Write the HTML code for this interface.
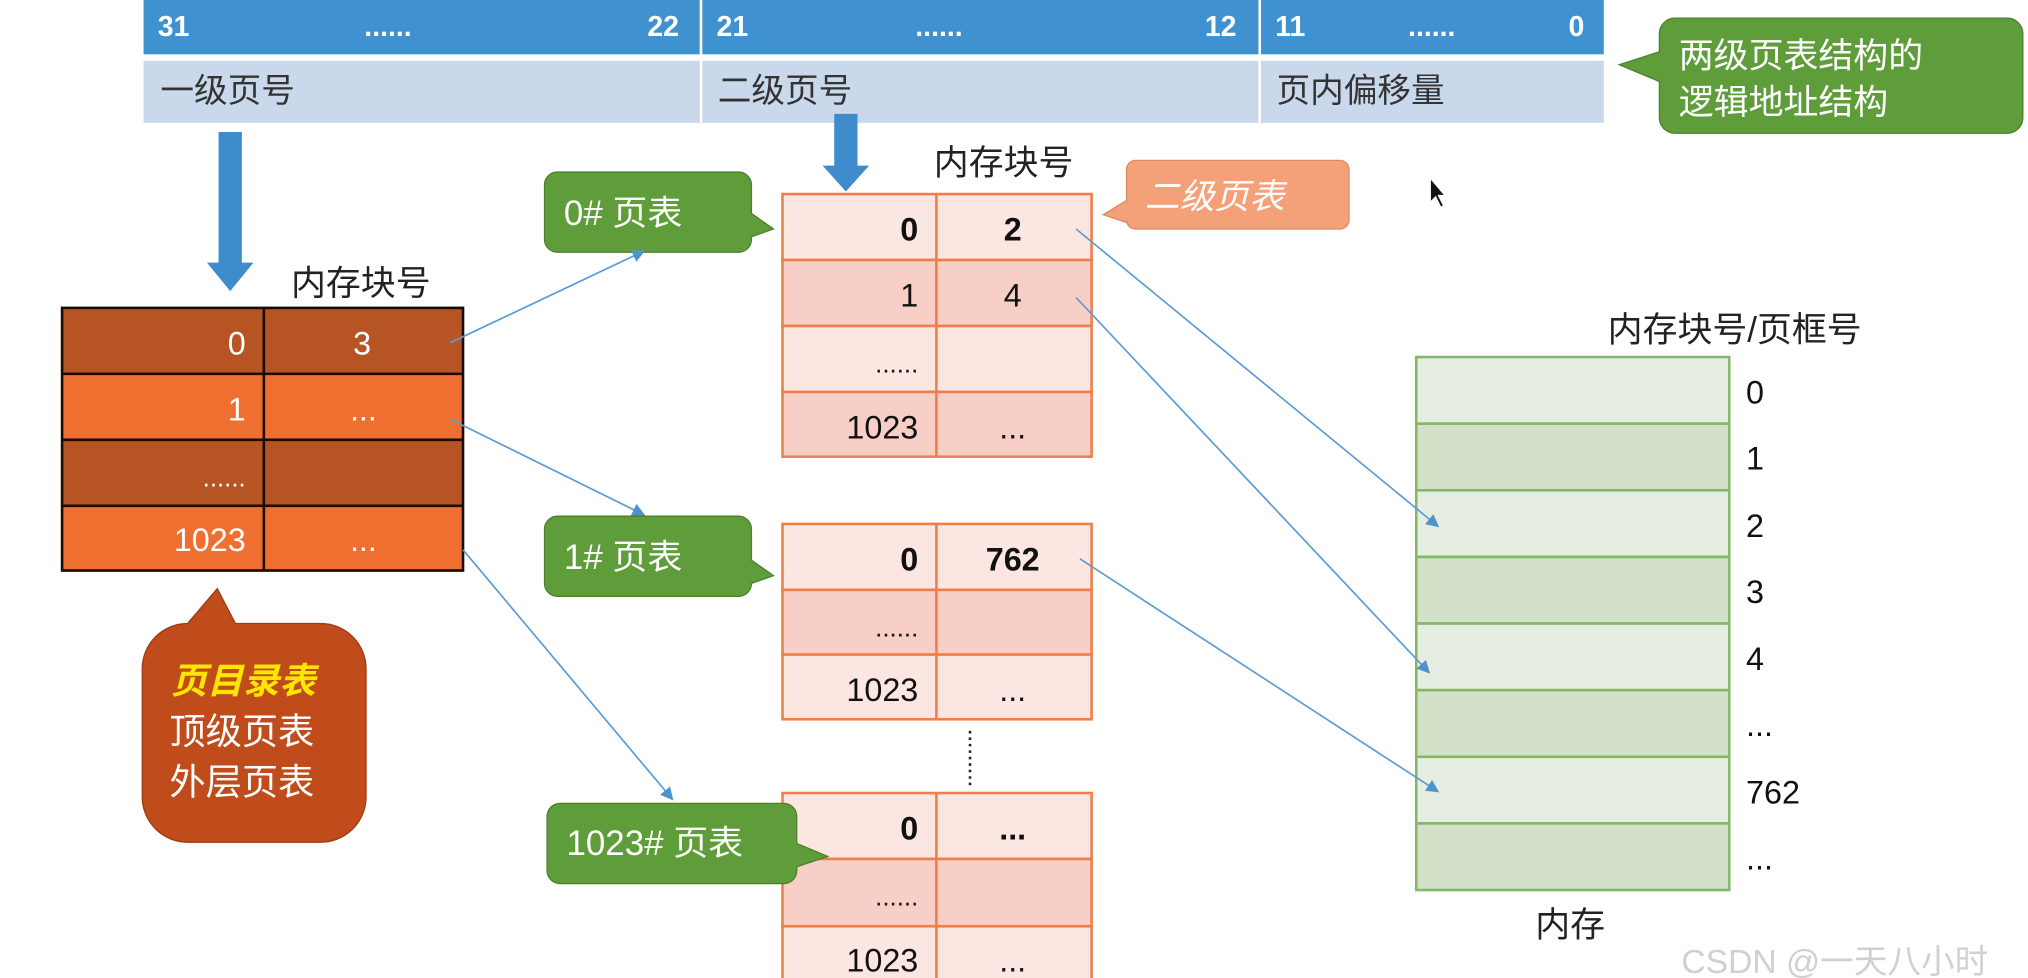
<!DOCTYPE html>
<html><head><meta charset="utf-8"><style>
html,body{margin:0;padding:0;background:#fff;overflow:hidden}
svg{display:block}
text{font-family:"Liberation Sans","Noto Sans CJK SC",sans-serif}
</style></head><body>
<svg width="2028" height="978" viewBox="0 0 1568 756" preserveAspectRatio="none" xmlns="http://www.w3.org/2000/svg">
<defs>
<marker id="ah" markerWidth="10" markerHeight="10" refX="9" refY="5" orient="auto" markerUnits="userSpaceOnUse"><path d="M0,0 L10,5 L0,10 z" fill="#4f93cc"/></marker>
</defs>
<rect width="1568" height="756" fill="#fff"/>
<rect x="111" y="0" width="1129" height="42" fill="#3f92cf"/>
<rect x="111" y="47" width="1129" height="48" fill="#c9d9eb"/>
<line x1="542" y1="0" x2="542" y2="95" stroke="#fff" stroke-width="2"/>
<line x1="974" y1="0" x2="974" y2="95" stroke="#fff" stroke-width="2"/>
<g fill="#fff" font-weight="bold" font-size="22">
<text x="122" y="28">31</text><text x="300" y="28" text-anchor="middle">......</text><text x="525" y="28" text-anchor="end">22</text>
<text x="554" y="28">21</text><text x="726" y="28" text-anchor="middle">......</text><text x="956" y="28" text-anchor="end">12</text>
<text x="986" y="28">11</text><text x="1107" y="28" text-anchor="middle">......</text><text x="1225" y="28" text-anchor="end">0</text>
</g>
<g fill="#333" font-size="26">
<text x="124" y="79">一级页号</text><text x="555" y="79">二级页号</text><text x="987" y="79">页内偏移量</text>
</g>
<path d="M1295,14 H1552 a12,12 0 0 1 12,12 V91 a12,12 0 0 1 -12,12 H1295 a12,12 0 0 1 -12,-12 V63 L1252,50 L1283,40 V26 a12,12 0 0 1 12,-12z" fill="#5f9d3a" stroke="#4d7f2f"/>
<g fill="#fff" font-size="27"><text x="1298" y="52">两级页表结构的</text><text x="1298" y="88">逻辑地址结构</text></g>
<path d="M169,102 H187 V203 H196 L178,225 L160,203 H169z" fill="#3e8ccb"/>
<path d="M645,88 H663 V128 H672 L654,148 L636,128 H645z" fill="#3e8ccb"/>
<g fill="#222" font-size="27">
<text x="225" y="228">内存块号</text><text x="722" y="135">内存块号</text>
<text x="1243" y="264">内存块号/页框号</text><text x="1187" y="724">内存</text>
</g>
<rect x="48" y="238" width="310" height="51" fill="#b65424"/>
<rect x="48" y="289" width="310" height="51" fill="#ee6f2f"/>
<rect x="48" y="340" width="310" height="51" fill="#b65424"/>
<rect x="48" y="391" width="310" height="51" fill="#ee6f2f"/>
<g stroke="#1a0a00" stroke-width="2" fill="none">
<rect x="48" y="238" width="310" height="203"/>
<line x1="48" y1="289" x2="358" y2="289"/><line x1="48" y1="340" x2="358" y2="340"/><line x1="48" y1="391" x2="358" y2="391"/>
<line x1="204" y1="238" x2="204" y2="441"/>
</g>
<g fill="#fff" font-size="25">
<text x="190" y="274" text-anchor="end">0</text><text x="280" y="274" text-anchor="middle">3</text>
<text x="190" y="325" text-anchor="end">1</text><text x="281" y="325" text-anchor="middle">...</text>
<text x="190" y="376" text-anchor="end" font-size="20">......</text>
<text x="190" y="426" text-anchor="end">1023</text><text x="281" y="426" text-anchor="middle">...</text>
</g>
<path d="M145,482 L168,455 L182,482 H248 a35,35 0 0 1 35,35 V616 a35,35 0 0 1 -35,35 H145 a35,35 0 0 1 -35,-35 V517 a35,35 0 0 1 35,-35z" fill="#c04b1b" stroke="#9a3a14"/>
<text x="132" y="536" fill="#ffe600" font-size="28" font-style="italic" font-weight="bold">页目录表</text>
<g fill="#fff" font-size="28"><text x="131" y="575">顶级页表</text><text x="131" y="614">外层页表</text></g>
<path d="M878,124 H1036 a7,7 0 0 1 7,7 V170 a7,7 0 0 1 -7,7 H878 a7,7 0 0 1 -7,-7 V172 L853,166 L871,155 V131 a7,7 0 0 1 7,-7z" fill="#f4a079" stroke="#d98a60"/>
<text x="885" y="161" fill="#fff" font-size="27" font-style="italic">二级页表</text>
<g stroke="#ee7f4b" stroke-width="2">
<rect x="605" y="150" width="239" height="51" fill="#fbe6e2"/>
<rect x="605" y="201" width="239" height="51" fill="#f8cfc6"/>
<rect x="605" y="252" width="239" height="51" fill="#fbe6e2"/>
<rect x="605" y="303" width="239" height="50" fill="#f8cfc6"/>
<line x1="724" y1="150" x2="724" y2="353"/>
<rect x="605" y="405" width="239" height="51" fill="#fbe6e2"/>
<rect x="605" y="456" width="239" height="50" fill="#f8cfc6"/>
<rect x="605" y="506" width="239" height="50" fill="#fbe6e2"/>
<line x1="724" y1="405" x2="724" y2="556"/>
<rect x="605" y="613" width="239" height="51" fill="#fbe6e2"/>
<rect x="605" y="664" width="239" height="52" fill="#f8cfc6"/>
<rect x="605" y="716" width="239" height="50" fill="#fbe6e2"/>
<line x1="724" y1="613" x2="724" y2="766"/>
</g>
<g fill="#111" font-size="25">
<text x="710" y="186" text-anchor="end" font-weight="bold">0</text><text x="783" y="186" text-anchor="middle" font-weight="bold">2</text>
<text x="710" y="237" text-anchor="end">1</text><text x="783" y="237" text-anchor="middle">4</text>
<text x="710" y="288" text-anchor="end" font-size="20">......</text>
<text x="710" y="339" text-anchor="end">1023</text><text x="783" y="339" text-anchor="middle">...</text>
<text x="710" y="441" text-anchor="end" font-weight="bold">0</text><text x="783" y="441" text-anchor="middle" font-weight="bold">762</text>
<text x="710" y="492" text-anchor="end" font-size="20">......</text>
<text x="710" y="542" text-anchor="end">1023</text><text x="783" y="542" text-anchor="middle">...</text>
<text x="710" y="649" text-anchor="end" font-weight="bold">0</text><text x="783" y="649" text-anchor="middle" font-weight="bold">...</text>
<text x="710" y="700" text-anchor="end" font-size="20">......</text>
<text x="710" y="751" text-anchor="end">1023</text><text x="783" y="751" text-anchor="middle">...</text>
</g>
<g fill="#5f9d3a" stroke="#4d7f2f">
<path d="M431,133 H571 a10,10 0 0 1 10,10 V165 L598,177 L581,183 V185 a10,10 0 0 1 -10,10 H431 a10,10 0 0 1 -10,-10 V143 a10,10 0 0 1 10,-10z"/>
<path d="M431,399 H571 a10,10 0 0 1 10,10 V433 L598,445 L581,451 V451 a10,10 0 0 1 -10,10 H431 a10,10 0 0 1 -10,-10 V409 a10,10 0 0 1 10,-10z"/>
<path d="M433,621 H606 a10,10 0 0 1 10,10 V652 L640,662 L616,670 V673 a10,10 0 0 1 -10,10 H433 a10,10 0 0 1 -10,-10 V631 a10,10 0 0 1 10,-10z"/>
</g>
<g fill="#fff" font-size="27"><text x="436" y="174">0# 页表</text><text x="436" y="440">1# 页表</text><text x="438" y="661">1023# 页表</text></g>
<line x1="750" y1="565" x2="750" y2="607" stroke="#222" stroke-width="2" stroke-dasharray="2,3"/>
<g stroke="#84b868" stroke-width="2">
<rect x="1095" y="276" width="242" height="51.5" fill="#e6eee1"/>
<rect x="1095" y="327.5" width="242" height="51.5" fill="#d3e1c8"/>
<rect x="1095" y="379" width="242" height="51.5" fill="#e6eee1"/>
<rect x="1095" y="430.5" width="242" height="51.5" fill="#d3e1c8"/>
<rect x="1095" y="482" width="242" height="51.5" fill="#e6eee1"/>
<rect x="1095" y="533.5" width="242" height="51.5" fill="#d3e1c8"/>
<rect x="1095" y="585" width="242" height="51.5" fill="#e6eee1"/>
<rect x="1095" y="636.5" width="242" height="51.5" fill="#d3e1c8"/>
</g>
<g fill="#111" font-size="25">
<text x="1350" y="312">0</text><text x="1350" y="363">1</text><text x="1350" y="415">2</text><text x="1350" y="466">3</text>
<text x="1350" y="518">4</text><text x="1350" y="569">...</text><text x="1350" y="621">762</text><text x="1350" y="672">...</text>
</g>
<g stroke="#5b9bd5" stroke-width="1.3" fill="none" marker-end="url(#ah)">
<line x1="348" y1="265" x2="498" y2="194"/>
<line x1="348" y1="324" x2="498" y2="398"/>
<line x1="358" y1="425" x2="520" y2="618"/>
<line x1="832" y1="177" x2="1112" y2="407"/>
<line x1="832" y1="230" x2="1105" y2="520"/>
<line x1="835" y1="432" x2="1112" y2="612"/>
</g>
<path d="M1106,138 L1106,156 L1110,152 L1114,160 L1116,159 L1112,151 L1117,151z" fill="#111" stroke="#fff" stroke-width="0.7"/>
<text x="1300" y="752" fill="#d0d0d0" font-size="26">CSDN @一天八小时</text>
</svg>
</body></html>
